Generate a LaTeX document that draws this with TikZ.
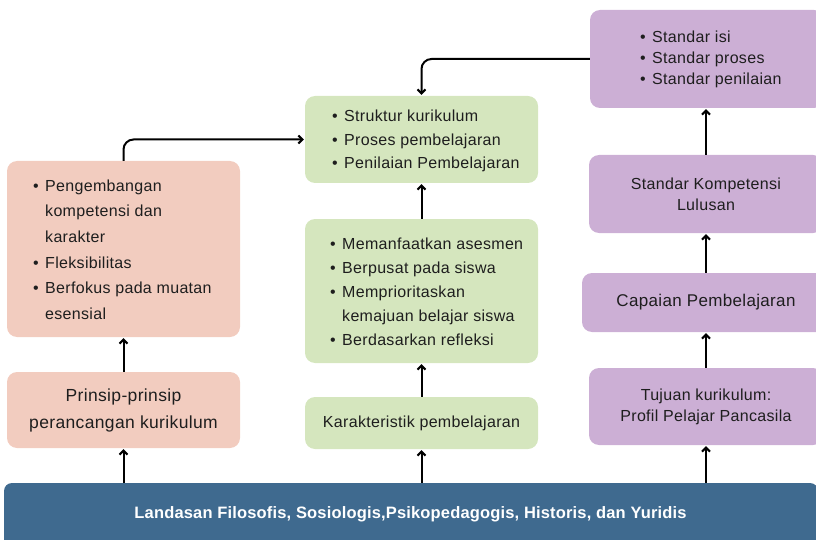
\documentclass[tikz,border=0pt]{standalone}
\usepackage{fontspec}
\setmainfont{Liberation Sans}[LetterSpace=2]
\newfontfamily\barfont{Liberation Sans}[LetterSpace=1]
\usetikzlibrary{arrows.meta}

\newlength{\du}
\setlength{\du}{1pt}

\definecolor{pinkfill}{HTML}{F2CCBF}
\definecolor{greenfill}{HTML}{D5E6BE}
\definecolor{purplefill}{HTML}{CCAFD5}
\definecolor{barfill}{HTML}{3F6A8F}
\definecolor{textdark}{HTML}{1E1E1E}

\newcommand{\bitem}[1]{\makebox[12\du][l]{\textbullet}#1}
\newcommand{\bcont}[1]{\hspace*{12\du}#1}

\tikzset{
  box/.style={rounded corners=10\du, inner sep=0pt, text=textdark, align=center},
  pinkbox/.style={box, fill=pinkfill},
  greenbox/.style={box, fill=greenfill},
  purplebox/.style={box, fill=purplefill},
  listtext/.style={anchor=west, align=left, text=textdark, inner sep=0pt},
  conn/.style={draw=black, line width=2\du, shorten >=1\du,
    -{Straight Barb[length=4pt,width=8pt]}},
}

\begin{document}
\begin{tikzpicture}[yscale=-1]
\useasboundingbox (0\du,0\du) rectangle (816\du,540\du);

% bottom bar
\node[rounded corners=8\du, fill=barfill, minimum width=814\du, minimum height=66\du,
  inner sep=0pt] (bar) at (411\du,516\du) {};
\node[text=white, font=\barfont\bfseries\fontsize{16.5}{20}\selectfont] (bartext) at (410.5\du,514\du)
  {Landasan Filosofis, Sosiologis,Psikopedagogis, Historis, dan Yuridis};

% left column
\node[pinkbox, minimum width=233\du, minimum height=176\du] (prinsipbox) at (123.5\du,249\du) {};
\node[listtext, font=\fontsize{16}{25.6}\selectfont] (prinsiplist) at (33\du,249.5\du)
  {\bitem{Pengembangan}\\ \bcont{kompetensi dan}\\ \bcont{karakter}\\
   \bitem{Fleksibilitas}\\ \bitem{Berfokus pada muatan}\\ \bcont{esensial}};
\node[pinkbox, minimum width=233\du, minimum height=76\du,
  font=\fontsize{17.5}{27}\selectfont] (prinsip) at (123.5\du,410\du)
  {Prinsip-prinsip\\perancangan kurikulum};

% middle column
\node[greenbox, minimum width=233\du, minimum height=87\du] (strukturbox) at (421.5\du,139.5\du) {};
\node[listtext, font=\fontsize{16}{23.5}\selectfont] (strukturlist) at (332\du,141\du)
  {\bitem{Struktur kurikulum}\\ \bitem{Proses pembelajaran}\\ \bitem{Penilaian Pembelajaran}};
\node[greenbox, minimum width=233\du, minimum height=144\du] (cirikbox) at (421.5\du,291\du) {};
\node[listtext, font=\fontsize{16}{24}\selectfont] (cirilist) at (330\du,292\du)
  {\bitem{Memanfaatkan asesmen}\\ \bitem{Berpusat pada siswa}\\ \bitem{Memprioritaskan}\\
   \bcont{kemajuan belajar siswa}\\ \bitem{Berdasarkan refleksi}};
\node[greenbox, minimum width=233\du, minimum height=52\du,
  font=\fontsize{16}{21}\selectfont] (karakteristik) at (421.5\du,423\du)
  {Karakteristik pembelajaran};

% right column
\node[purplebox, minimum width=234\du, minimum height=98\du] (standarbox) at (707\du,59\du) {};
\node[listtext, font=\fontsize{16}{21}\selectfont] (standarlist) at (640\du,59.5\du)
  {\bitem{Standar isi}\\ \bitem{Standar proses}\\ \bitem{Standar penilaian}};
\node[purplebox, minimum width=234\du, minimum height=78\du,
  font=\fontsize{16}{21}\selectfont] (skl) at (706\du,194\du)
  {Standar Kompetensi\\Lulusan};
\node[purplebox, minimum width=248\du, minimum height=59\du,
  font=\fontsize{17}{21}\selectfont] (capaian) at (706\du,302.5\du)
  {Capaian Pembelajaran};
\node[purplebox, minimum width=234\du, minimum height=77\du,
  font=\fontsize{16}{21}\selectfont] (tujuan) at (706\du,406.5\du)
  {Tujuan kurikulum:\\Profil Pelajar Pancasila};

% connectors
\draw[conn] (prinsip.south |- bar.north) -- (prinsip.south);
\draw[conn] (prinsip.north) -- (prinsipbox.south);
\draw[conn, rounded corners=10\du] (prinsipbox.north) |- (strukturbox.west);
\draw[conn] (karakteristik.south |- bar.north) -- (karakteristik.south);
\draw[conn] (karakteristik.north) -- (cirikbox.south);
\draw[conn] (cirikbox.north) -- (strukturbox.south);
\draw[conn] (tujuan.south |- bar.north) -- (tujuan.south);
\draw[conn] (tujuan.north) -- (capaian.south);
\draw[conn] (capaian.north) -- (skl.south);
\draw[conn] (skl.north) -- (skl.north |- standarbox.south);
\draw[conn, rounded corners=10\du] (standarbox.west) -| (strukturbox.north);
\end{tikzpicture}
\end{document}
